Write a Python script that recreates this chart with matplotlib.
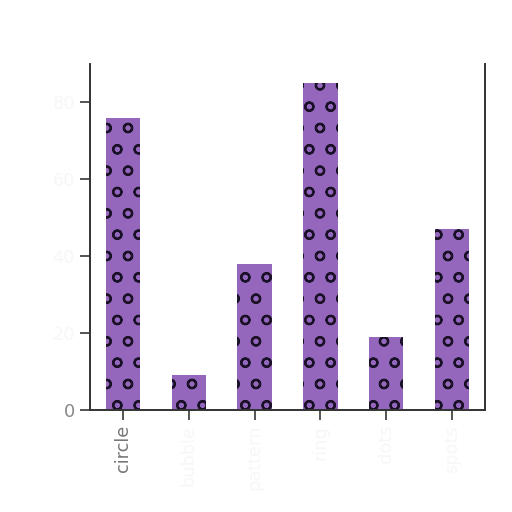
import matplotlib
matplotlib.use("Agg")
import matplotlib.pyplot as plt

categories = ["circle", "bubble", "pattern", "ring", "dots", "spots"]
values = [76, 9, 38, 85, 19, 47]
y_ticks = [0, 20, 40, 60, 80]
y_tick_labels = ["0", "20", "40", "60", "80"]

plt.rcParams["hatch.linewidth"] = 1.2
plt.rcParams["font.family"] = ["DejaVu Sans"]

fig = plt.figure(figsize=(4, 4), dpi=128)
ax = fig.add_axes([90 / 512, 1 - 410 / 512, 395 / 512, 346 / 512])

x = list(range(len(categories)))
bars = ax.bar(x, values, width=0.52, color="#9467bd", edgecolor="#1a1028",
              linewidth=0, hatch="o")

ax.set_xlim(-0.5, len(categories) - 0.5)
ax.set_ylim(0, 90)

ax.set_xticks(x)
ax.set_xticklabels(categories, rotation=90, fontsize=10)
ax.set_yticks(y_ticks)
ax.set_yticklabels(y_tick_labels, fontsize=10)

for i, lab in enumerate(ax.get_xticklabels()):
    lab.set_color("#777777" if i == 0 else "#f7f7f7")
for i, lab in enumerate(ax.get_yticklabels()):
    lab.set_color("#888888" if i == 0 else "#f7f7f7")

ax.tick_params(axis="both", length=5.5, width=1.0, color="#444444", pad=3)
for i, t in enumerate(ax.yaxis.get_major_ticks()):
    if i > 0:
        t.tick1line.set_color("#eeeeee")

ax.spines["top"].set_visible(False)
for s in ["left", "bottom", "right"]:
    ax.spines[s].set_linewidth(1.1)
    ax.spines[s].set_color("#333333")

fig.savefig("out.png", dpi=128, facecolor="white")
